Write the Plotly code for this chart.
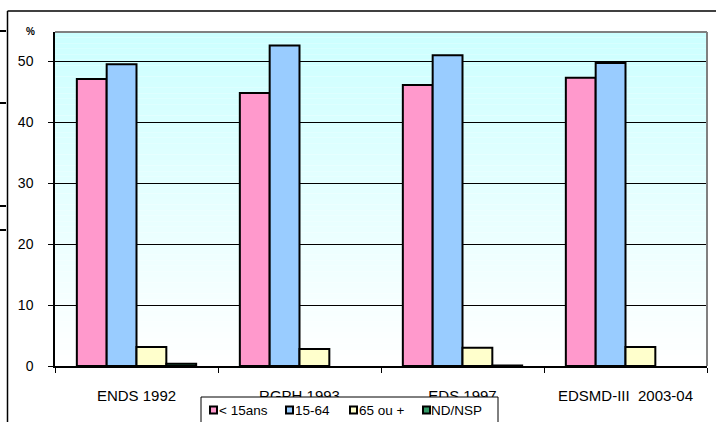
import plotly.graph_objects as go

categories = ["ENDS 1992", "RGPH 1993", "EDS 1997", "EDSMD-III&nbsp; 2003-04"]
series_names = ["&lt; 15ans", "15-64", "65 ou +", "ND/NSP"]
under15 = [47.1, 44.8, 46.1, 47.3]
age15_64 = [49.5, 52.6, 51.0, 49.7]
over65 = [3.1, 2.8, 3.0, 3.1]
nd_nsp = [0.35, None, 0.1, None]
y_ticks = [0, 10, 20, 30, 40, 50]

colors = ["#FF99CC", "#99CCFF", "#FFFFCC", "#339966"]
values = [under15, age15_64, over65, nd_nsp]

FONT = "Arial, 'Liberation Sans', sans-serif"
W, H = 716, 422
ML, MR, MT, MB = 55, 9, 32, 56
PW = W - ML - MR
PH = H - MT - MB

def px_x(px):
    return (px - ML) / PW

def px_y(py):
    return (H - MB - py) / PH

fig = go.Figure()
for name, vals, col in zip(series_names, values, colors):
    fig.add_trace(go.Bar(
        x=categories, y=vals, name=name,
        marker=dict(color=col, line=dict(color="black", width=2)),
        hoverinfo="x+y+name", showlegend=False,
    ))

shapes = []
# gradient background of the plot area
n = 60
for i in range(n):
    t = i / (n - 1)  # 0 at bottom, 1 at top
    r = round(255 - 51 * t)
    shapes.append(dict(
        type="rect", xref="x domain", yref="y domain",
        x0=0, x1=1, y0=i / n, y1=(i + 1) / n,
        fillcolor=f"rgb({r},255,255)", line=dict(width=0), layer="below",
    ))
# gray top/right border of plot area
shapes.append(dict(type="line", xref="x domain", yref="y domain", x0=0, x1=1, y0=1, y1=1,
                   line=dict(color="#808080", width=2)))
shapes.append(dict(type="line", xref="x domain", yref="y domain", x0=1, x1=1, y0=0, y1=1,
                   line=dict(color="#808080", width=2)))
# outer chart frame
shapes.append(dict(type="line", xref="paper", yref="paper",
                   x0=px_x(7.5), x1=px_x(720), y0=px_y(11), y1=px_y(11),
                   line=dict(color="black", width=1.5)))
shapes.append(dict(type="line", xref="paper", yref="paper",
                   x0=px_x(7.5), x1=px_x(7.5), y0=px_y(11), y1=px_y(430),
                   line=dict(color="black", width=1.5)))
# fragments of neighbouring table at left edge
for yy in [31, 103, 206, 230]:
    shapes.append(dict(type="line", xref="paper", yref="paper",
                       x0=px_x(-2), x1=px_x(6), y0=px_y(yy), y1=px_y(yy),
                       line=dict(color="black", width=2)))

# legend box (drawn manually to match the compact original legend)
shapes.append(dict(type="rect", xref="paper", yref="paper",
                   x0=px_x(201), x1=px_x(498), y0=px_y(397), y1=px_y(432),
                   fillcolor="white", line=dict(color="black", width=1)))
legend_sq_x = [213.5, 289.5, 353.5, 426.5]
legend_y = 410
annotations = [dict(
    text="<b>%</b>", xref="paper", yref="paper",
    x=px_x(30), y=px_y(31), xanchor="center", yanchor="middle",
    showarrow=False, font=dict(family=FONT, size=10, color="black"),
)]
for sx, name, col in zip(legend_sq_x, series_names, colors):
    shapes.append(dict(type="rect", xref="paper", yref="paper",
                       x0=px_x(sx - 3.5), x1=px_x(sx + 3.5),
                       y0=px_y(legend_y - 3.5), y1=px_y(legend_y + 3.5),
                       fillcolor=col, line=dict(color="black", width=2)))
    annotations.append(dict(
        text=name, xref="paper", yref="paper",
        x=px_x(sx + 4), y=px_y(legend_y), xanchor="left", yanchor="middle",
        showarrow=False, borderpad=0,
        font=dict(family=FONT, size=13.5, color="black"),
    ))

fig.update_layout(
    width=W, height=H,
    margin=dict(l=ML, r=MR, t=MT, b=MB, pad=0, autoexpand=False),
    paper_bgcolor="white", plot_bgcolor="white",
    barmode="group", bargap=0.268, bargroupgap=0,
    font=dict(family=FONT, size=14, color="black"),
    shapes=shapes,
    annotations=annotations,
    showlegend=False,
)
fig.update_xaxes(
    type="category", showline=True, linecolor="black", linewidth=1.5,
    ticks="outside", tickson="boundaries", ticklen=5, tickcolor="black", tickwidth=1,
    showgrid=False, zeroline=False, automargin=False, ticklabelstandoff=15,
    tickfont=dict(family=FONT, size=15, color="black"),
)
fig.update_yaxes(
    range=[0, 54.8], tickvals=y_ticks, showline=True, linecolor="black", linewidth=1.5,
    ticks="outside", ticklen=5, tickcolor="black", tickwidth=1,
    showgrid=True, gridcolor="black", gridwidth=1, zeroline=False,
    automargin=False, ticklabelstandoff=12,
    tickfont=dict(family=FONT, size=14, color="black"),
)
fig.write_html(
    "out.html",
    config={"displayModeBar": False},
    post_script="document.body.style.margin='0';document.body.style.overflow='hidden';",
)
